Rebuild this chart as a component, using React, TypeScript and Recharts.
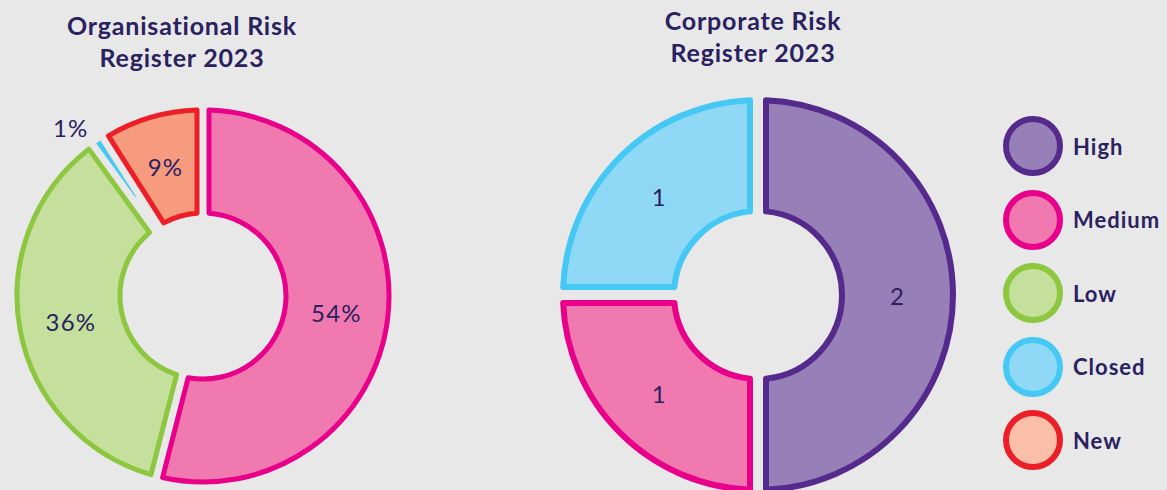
import { PieChart, Pie } from "recharts";

const ORG_NAMES = ["Medium", "Low", "Closed", "New"];
const ORG_VALUES = [54, 36, 1, 9];

const CORP_NAMES = ["High", "Medium", "Closed"];
const CORP_VALUES = [2, 1, 1];

const LEGEND_NAMES = ["High", "Medium", "Low", "Closed", "New"];

const FILL: Record<string, string> = {
  High: "#977fb8", Medium: "#f07aaf", Low: "#c5e09c", Closed: "#8fd9f6", New: "#f79b7e",
};
const STROKE: Record<string, string> = {
  High: "#552a8c", Medium: "#e8008a", Low: "#8dc63f", Closed: "#45c8f4", New: "#ec1f28",
};
const LEGEND_FILL: Record<string, string> = { ...FILL, New: "#fbbea8" };

const NAVY = "#2a2160";
const BG = "#e8e8e8";
const FONT = "Lato, 'Noto Sans', sans-serif";

const orgData = ORG_NAMES.map((name, i) => ({ name, value: ORG_VALUES[i] }));
const corpData = CORP_NAMES.map((name, i) => ({ name, value: CORP_VALUES[i] }));

// sector with parallel (constant width) gaps instead of wedge-shaped padding
function gapPath(cx: number, cy: number, r0: number, r1: number, sa: number, ea: number, half: number) {
  const a = Math.min(sa, ea);
  const b = Math.max(sa, ea);
  const span = ((b - a) * Math.PI) / 180;
  const h = Math.min(half, Math.sin(span / 2) * 120);
  const pt = (r: number, deg: number) =>
    `${cx + r * Math.cos((deg * Math.PI) / 180)},${cy - r * Math.sin((deg * Math.PI) / 180)}`;
  const d = (r: number) => (Math.asin(Math.min(1, h / r)) * 180) / Math.PI;
  const d1 = d(r1);
  const large1 = b - a - 2 * d1 > 180 ? 1 : 0;
  const apex = h / Math.sin(span / 2);
  if (apex >= r0) {
    return `M${pt(apex, (a + b) / 2)} L${pt(r1, a + d1)} A${r1},${r1} 0 ${large1} 0 ${pt(r1, b - d1)} Z`;
  }
  const d0 = d(r0);
  const large0 = b - a - 2 * d0 > 180 ? 1 : 0;
  return `M${pt(r1, a + d1)} A${r1},${r1} 0 ${large1} 0 ${pt(r1, b - d1)} L${pt(r0, b - d0)} A${r0},${r0} 0 ${large0} 1 ${pt(r0, a + d0)} Z`;
}

function makeShape(half: number, sw: number) {
  return (p: any) => {
    const name = p.payload?.name ?? p.name;
    const thin = Math.abs(p.endAngle - p.startAngle) < 5;
    return (
      <path
        d={gapPath(p.cx, p.cy, p.innerRadius, p.outerRadius, p.startAngle, p.endAngle, half)}
        fill={thin ? STROKE[name] : FILL[name]}
        stroke={STROKE[name]}
        strokeWidth={thin ? 1 : sw}
        strokeLinejoin="round"
      />
    );
  };
}

function makeLabel(suffix: string) {
  return (p: any) => {
    const small = p.percent < 0.03;
    const r = small ? p.outerRadius + 28 : (p.innerRadius + p.outerRadius) / 2;
    const rad = ((p.midAngle + (small ? 4 : 0)) * Math.PI) / 180;
    const x = p.cx + r * Math.cos(rad);
    const y = p.cy - r * Math.sin(rad);
    return (
      <text x={x} y={y} fill={NAVY} fontSize={24} letterSpacing={1.2} fontFamily={FONT} textAnchor="middle" dominantBaseline="central">
        {p.value}{suffix}
      </text>
    );
  };
}

const titleStyle: React.CSSProperties = {
  position: "absolute", width: 340, textAlign: "center", color: NAVY,
  fontFamily: FONT, fontWeight: 700, fontSize: 25, letterSpacing: 0.8, lineHeight: "32px",
};

export default function App() {
  return (
    <div style={{ position: "absolute", left: 0, top: 0, width: 1167, height: 490, background: BG, overflow: "hidden" }}>
      <div style={{ ...titleStyle, left: 12, top: 9 }}>Organisational Risk<br />Register 2023</div>
      <div style={{ ...titleStyle, left: 583, top: 4 }}>Corporate Risk<br />Register 2023</div>
      <PieChart width={1167} height={490} margin={{ top: 0, right: 0, bottom: 0, left: 0 }} style={{ position: "absolute", left: 0, top: 0 }}>
        <Pie
          data={orgData}
          dataKey="value"
          cx={203}
          cy={296}
          innerRadius={83}
          outerRadius={186}
          startAngle={90}
          endAngle={-270}
          stroke="none"
          shape={makeShape(6, 5)}
          label={makeLabel("%")}
          labelLine={false}
          isAnimationActive={false}
        />
        <Pie
          data={corpData}
          dataKey="value"
          cx={758}
          cy={295}
          innerRadius={84}
          outerRadius={195}
          startAngle={90}
          endAngle={-270}
          stroke="none"
          shape={makeShape(8, 6)}
          label={makeLabel("")}
          labelLine={false}
          isAnimationActive={false}
        />
      </PieChart>
      {LEGEND_NAMES.map((name, i) => (
        <div key={name} style={{ position: "absolute", left: 1003, top: 116 + i * 73.6, height: 60, display: "flex", alignItems: "center" }}>
          <div style={{ boxSizing: "border-box", width: 60, height: 60, borderRadius: "50%", background: LEGEND_FILL[name], border: `6px solid ${STROKE[name]}` }} />
          <span style={{ marginLeft: 10, fontFamily: FONT, fontWeight: 700, fontSize: 22, letterSpacing: 1, color: NAVY }}>{name}</span>
        </div>
      ))}
    </div>
  );
}
